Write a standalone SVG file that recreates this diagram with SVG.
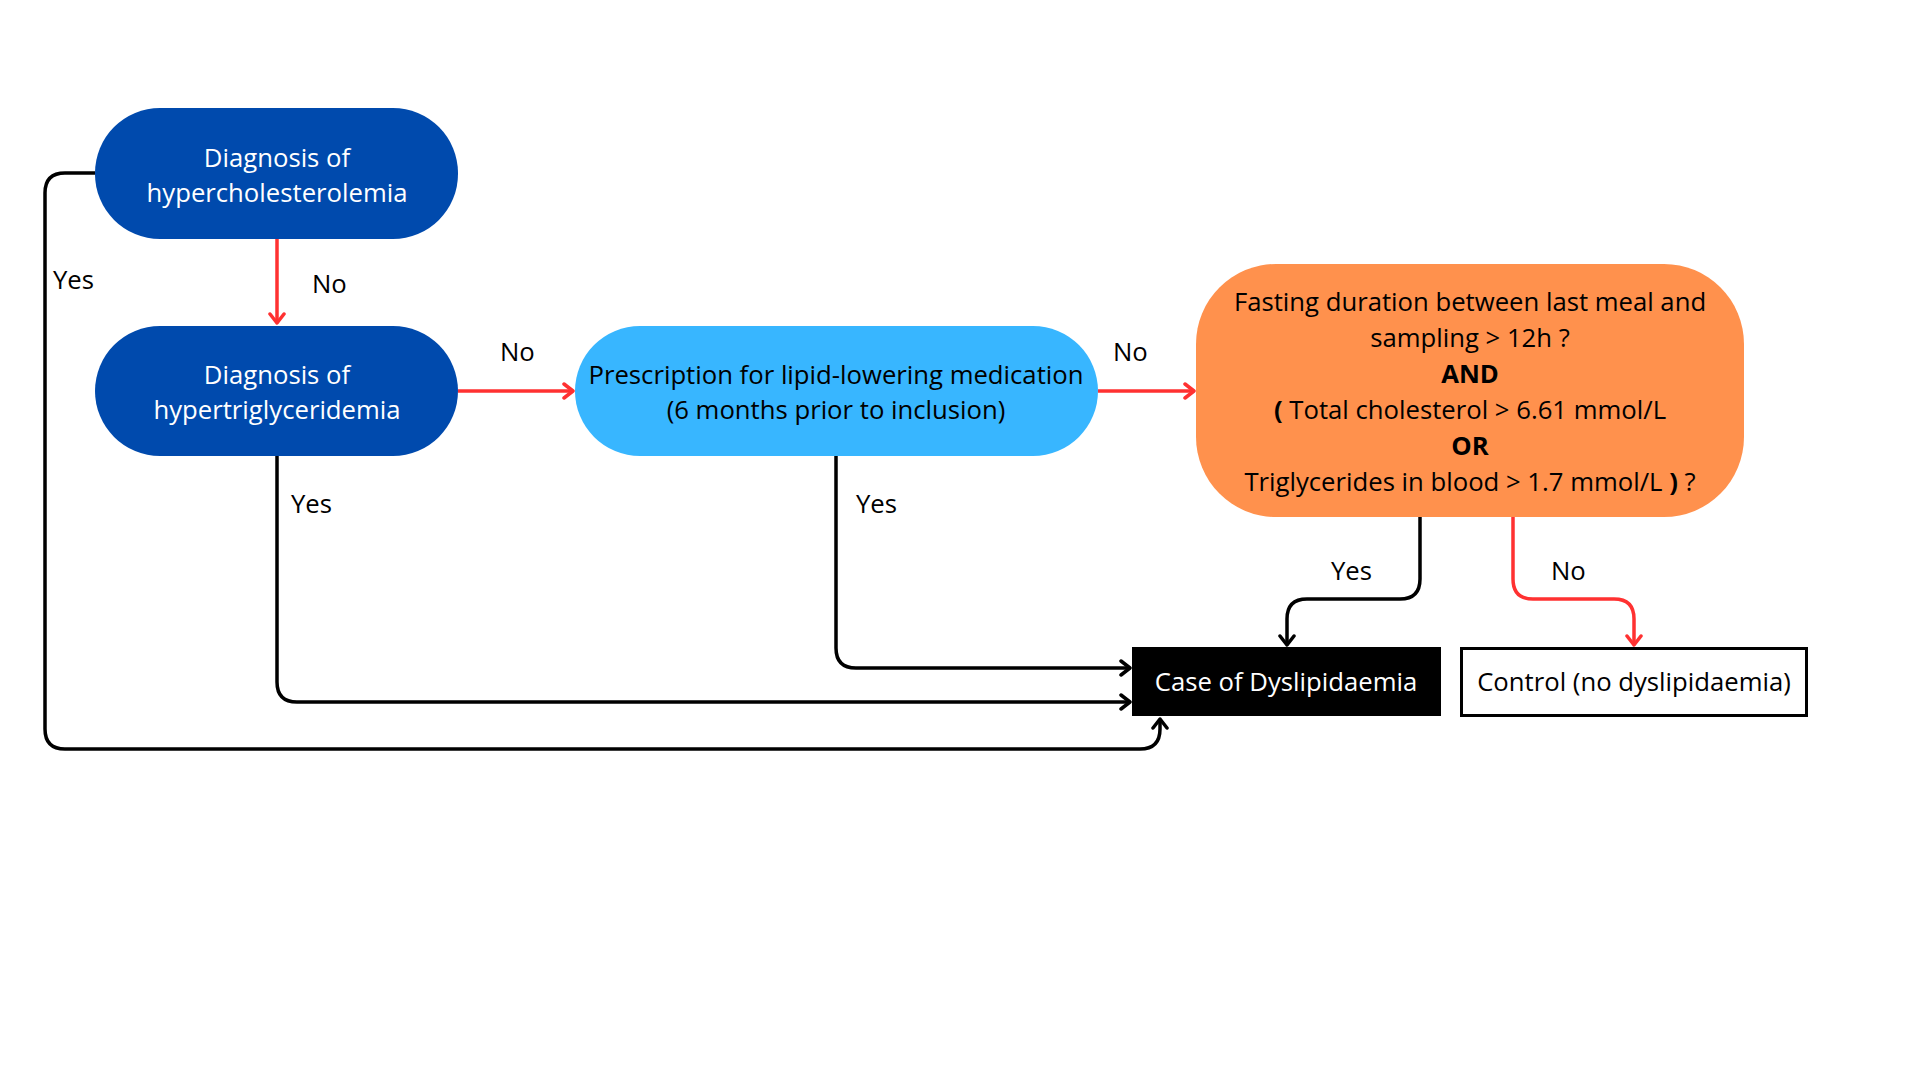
<svg xmlns="http://www.w3.org/2000/svg" width="1920" height="1080" viewBox="0 0 1920 1080">
<style>
text{font-family:"Open Sans","Noto Sans","Liberation Sans",sans-serif;font-size:25.7px;text-anchor:middle}
.w{fill:#ffffff}
.k{fill:#000000}
.l{text-anchor:start}
.b{font-weight:bold}
.c{fill:none;stroke-width:3.5;stroke-linejoin:round;stroke-linecap:butt}
.red{stroke:#FF3131}
.blk{stroke:#000000}
</style>
<defs>
<marker id="ar" viewBox="-12 -10 14 20" refX="0" refY="0" markerWidth="14" markerHeight="20" markerUnits="userSpaceOnUse" orient="auto">
<path d="M-9,-7 L0,0 L-9,7" fill="none" stroke="#FF3131" stroke-width="3.5" stroke-linejoin="round" stroke-linecap="round"/>
</marker>
<marker id="ak" viewBox="-12 -10 14 20" refX="0" refY="0" markerWidth="14" markerHeight="20" markerUnits="userSpaceOnUse" orient="auto">
<path d="M-9,-7 L0,0 L-9,7" fill="none" stroke="#000000" stroke-width="3.5" stroke-linejoin="round" stroke-linecap="round"/>
</marker>
</defs>
<rect width="1920" height="1080" fill="#ffffff"/>
<g id="connectors">
<path class="c red" d="M277,239 L277,323" marker-end="url(#ar)"/>
<path class="c red" d="M458,391 L573,391" marker-end="url(#ar)"/>
<path class="c red" d="M1098,391 L1194,391" marker-end="url(#ar)"/>
<path class="c blk" d="M277,455 L277,682 Q277,702 297,702 L1130,702" marker-end="url(#ak)"/>
<path class="c blk" d="M836,455 L836,648 Q836,668 856,668 L1130,668" marker-end="url(#ak)"/>
<path class="c blk" d="M95,173 L65,173 Q45,173 45,193 L45,729 Q45,749 65,749 L1140,749 Q1160,749 1160,729 L1160,719" marker-end="url(#ak)"/>
<path class="c blk" d="M1420,517 L1420,579 Q1420,599 1400,599 L1307,599 Q1287,599 1287,619 L1287,645" marker-end="url(#ak)"/>
<path class="c red" d="M1513,517 L1513,579 Q1513,599 1533,599 L1614,599 Q1634,599 1634,619 L1634,645" marker-end="url(#ar)"/>
<text class="k l" x="53" y="289">Yes</text>
<text class="k l" x="312" y="293">No</text>
<text class="k l" x="500" y="361">No</text>
<text class="k l" x="1113" y="361">No</text>
<text class="k l" x="291" y="513">Yes</text>
<text class="k l" x="856" y="513">Yes</text>
<text class="k l" x="1331" y="580">Yes</text>
<text class="k l" x="1551" y="580">No</text>
</g>
<g id="n1">
<rect x="95" y="108" width="363" height="131" rx="65" fill="#004AAD"/>
<text class="w" x="277" y="167">Diagnosis of</text>
<text class="w" x="277" y="202">hypercholesterolemia</text>
</g>
<g id="n2">
<rect x="95" y="326" width="363" height="130" rx="65" fill="#004AAD"/>
<text class="w" x="277" y="384">Diagnosis of</text>
<text class="w" x="277" y="419">hypertriglyceridemia</text>
</g>
<g id="n3">
<rect x="575" y="326" width="523" height="130" rx="65" fill="#38B6FF"/>
<text class="k" x="836" y="384">Prescription for lipid-lowering medication</text>
<text class="k" x="836" y="419">(6 months prior to inclusion)</text>
</g>
<g id="n4">
<rect x="1196" y="264" width="548" height="253" rx="80" fill="#FF914D"/>
<text class="k" x="1470" y="311">Fasting duration between last meal and</text>
<text class="k" x="1470" y="347">sampling &gt; 12h ?</text>
<text class="k b" x="1470" y="383">AND</text>
<text class="k" x="1470" y="419"><tspan class="b">(</tspan> Total cholesterol &gt; 6.61 mmol/L</text>
<text class="k b" x="1470" y="455">OR</text>
<text class="k" x="1470" y="491">Triglycerides in blood &gt; 1.7 mmol/L <tspan class="b">)</tspan> ?</text>
</g>
<g id="n5">
<rect x="1132" y="647" width="309" height="69" fill="#000000"/>
<text class="w" x="1286" y="691">Case of Dyslipidaemia</text>
</g>
<g id="n6">
<rect x="1461.5" y="648.5" width="345" height="67" fill="#ffffff" stroke="#000000" stroke-width="3"/>
<text class="k" x="1634" y="691">Control (no dyslipidaemia)</text>
</g>
</svg>
